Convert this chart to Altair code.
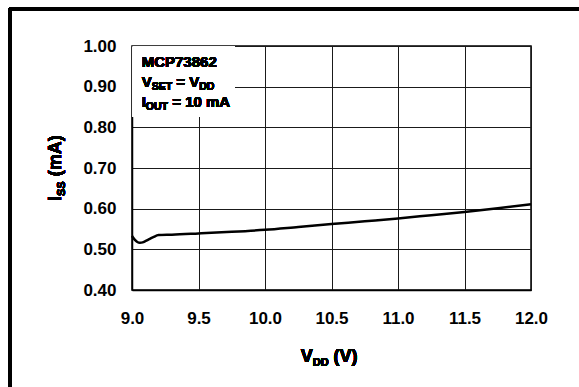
import altair as alt
import pandas as pd

# Data
vdd = [9.00, 9.02, 9.04, 9.06, 9.08, 9.10, 9.13, 9.16, 9.20, 9.30, 9.50, 9.75, 10.0, 10.25, 10.5, 10.75, 11.0, 11.25, 11.5, 11.75, 12.0]
iss = [0.533, 0.524, 0.518, 0.516, 0.517, 0.520, 0.525, 0.530, 0.535, 0.536, 0.539, 0.543, 0.548, 0.555, 0.562, 0.569, 0.576, 0.584, 0.592, 0.601, 0.611]
x_ticks = [9.0, 9.5, 10.0, 10.5, 11.0, 11.5, 12.0]
y_ticks = [0.40, 0.50, 0.60, 0.70, 0.80, 0.90, 1.00]

df = pd.DataFrame({"VDD": vdd, "ISS": iss})

W, H = 399, 244
PL, PT = 132, 46
TOTW, TOTH = 579, 387
FONT = "Liberation Sans"

# Arial/Liberation bold advance widths (em)
WID = {" ": 0.278, "=": 0.584, "(": 0.333, ")": 0.333, ".": 0.278, "A": 0.722, "C": 0.722,
       "D": 0.722, "E": 0.667, "I": 0.278, "M": 0.833, "O": 0.778, "P": 0.667, "S": 0.667,
       "T": 0.611, "U": 0.722, "V": 0.667, "m": 0.889}
def tw(s, fs):
    return sum(WID.get(c, 0.556) for c in s) * fs

def rich(pieces, x0, y0, fs, sub_fs, sub_dy, angle=0):
    layers = []
    pos = 0.0
    for txt, sub in pieces:
        f = sub_fs if sub else fs
        lead = len(txt) - len(txt.lstrip(" "))
        pos += tw(" " * lead, f)
        core = txt.strip(" ")
        if angle == 0:
            px, py = x0 + pos, y0 + (sub_dy if sub else 0)
        else:
            px, py = x0 + (sub_dy if sub else 0), y0 - pos
        layers.append(
            alt.Chart(df).mark_text(
                text=core, font=FONT, fontWeight="bold", fontSize=f, align="left",
                baseline="alphabetic", color="black", angle=angle, clip=False
            ).encode(x=alt.value(px), y=alt.value(py))
        )
        pos += tw(core, f)
    return layers

base = alt.Chart(df)

axis_common = dict(grid=True, gridColor="#1a1a1a", gridWidth=1, gridOpacity=1,
                   domainColor="black", domainWidth=1.5, ticks=False, labelFlush=False,
                   labelFont=FONT, labelFontWeight="bold", labelFontSize=17,
                   labelColor="black", title=None)

line = base.mark_line(color="black", strokeWidth=2.5, interpolate="monotone").encode(
    x=alt.X("VDD:Q", scale=alt.Scale(domain=[9, 12], nice=False),
            axis=alt.Axis(values=x_ticks, format=".1f", labelPadding=20, **axis_common)),
    y=alt.Y("ISS:Q", scale=alt.Scale(domain=[0.4, 1.0], nice=False, zero=False),
            axis=alt.Axis(values=y_ticks, format=".2f", labelPadding=16, **axis_common)),
)

box = base.mark_rect(fill="white", stroke=None).encode(
    x=alt.value(0.8), x2=alt.value(103), y=alt.value(0.8), y2=alt.value(71)
)

frame_left = base.mark_rule(color="black", strokeWidth=2.5, clip=False).encode(
    x=alt.value(10 - PL), y=alt.value(8 - PT), y2=alt.value(TOTH - PT)
)
frame_top = base.mark_rule(color="black", strokeWidth=2.5, clip=False).encode(
    x=alt.value(9 - PL), x2=alt.value(TOTW - PL), y=alt.value(9 - PT)
)

texts = []
texts += rich([("MCP73862", False)], 9.7, 21.3, 15, 10.5, 3)
texts += rich([("V", False), ("SET", True), (" = V", False), ("DD", True)], 9.7, 41.3, 15, 10.5, 3)
texts += rich([("I", False), ("OUT", True), (" = 10 mA", False)], 9.7, 60.5, 15, 10.5, 3)

# x-axis title
texts += rich([("V", False), ("DD", True), (" (V)", False)], 300.7 - PL, 362 - PT, 18, 11, 4)
# y-axis title (rotated)
texts += rich([("I", False), ("SS", True), (" (mA)", False)], 61 - PL, 201 - PT, 18, 11, 4, angle=270)

chart = alt.layer(box, line, frame_left, frame_top, *texts).properties(
    width=W, height=H,
    autosize=alt.AutoSizeParams(type="none"),
    padding={"left": PL, "top": PT, "right": TOTW - PL - W, "bottom": TOTH - PT - H},
    background="white",
).configure_view(stroke="black", strokeWidth=1.5)

chart.save("out.html", embed_options={"renderer": "svg", "actions": False})
